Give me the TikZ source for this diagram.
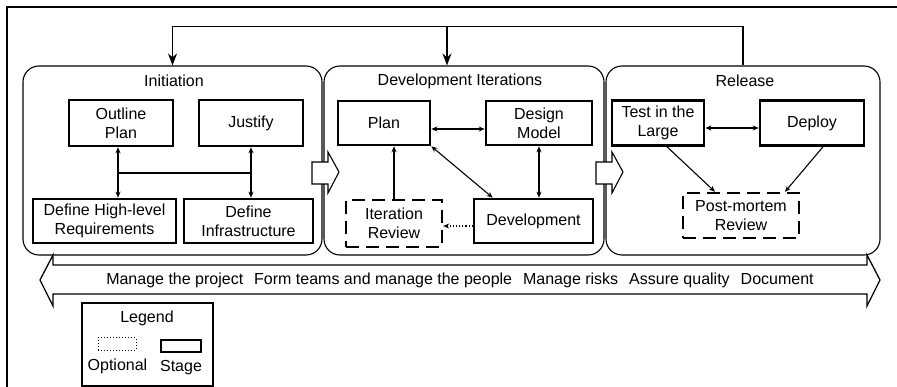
\documentclass[tikz,border=0pt]{standalone}
\usepackage{fontspec}
\setmainfont{Liberation Sans}
\usetikzlibrary{arrows.meta}

\begin{document}
\begin{tikzpicture}[x=1pt, y=-1pt, >={Stealth[length=6pt,width=5pt]},
    every node/.style={font=\fontsize{16}{19}\selectfont},
    phase/.style={draw, line width=1.1pt, rounded corners=16pt},
    stagebox/.style={draw, line width=2.6pt, align=center, inner sep=0pt},
    optbox/.style={draw, line width=2.4pt, dash pattern=on 13pt off 7pt, align=center, inner sep=0pt},
    link/.style={line width=1.1pt},
    feedback/.style={line width=1.2pt, -{Stealth[length=12pt,width=9pt]}}]
  \useasboundingbox (0,0) rectangle (897,387);
  \draw[line width=1.8pt] (897,7) -- (7,7) -- (7,387);

  % the three phases
  \node[phase, minimum width=299pt, minimum height=189pt] (init) at (172.5,160.5) {};
  \node[phase, minimum width=280pt, minimum height=189pt] (dev) at (464,160.5) {};
  \node[phase, minimum width=274pt, minimum height=189pt] (rel) at (743,160.5) {};
  \node (inittitle) at (174,81) {Initiation};
  \node (devtitle) at (460,81) {Development Iterations};
  \node (reltitle) at (745,81) {Release};

  % feedback on top
  \coordinate (fbmid) at (447,27);
  \draw[feedback] (rel.north) -- ++(0,-39) -| (init.north);
  \draw[feedback] (fbmid) -- (fbmid |- dev.north);

  % Initiation
  \node[stagebox, minimum width=104pt, minimum height=46pt] (outline) at (121,123) {Outline\\Plan};
  \node[stagebox, minimum width=104pt, minimum height=46pt] (justify) at (251,123) {Justify};
  \node[stagebox, minimum width=143pt, minimum height=44pt] (defreq) at (104.5,221) {Define High-level\\Requirements};
  \node[stagebox, minimum width=129pt, minimum height=44pt] (definf) at (248.5,221) {Define\\Infrastructure};
  \coordinate (reqjoin) at (118,173);
  \coordinate (infjoin) at (251,173);
  \draw[link,<->] (outline.south -| reqjoin) -- (defreq.north -| reqjoin);
  \draw[link,<->] (justify.south -| infjoin) -- (definf.north -| infjoin);
  \draw[link] (reqjoin) -- (infjoin);

  % Development Iterations
  \node[stagebox, minimum width=92pt, minimum height=44pt] (plan) at (384,123) {Plan};
  \node[stagebox, minimum width=106pt, minimum height=44pt] (design) at (539,123) {Design\\Model};
  \node[stagebox, minimum width=119pt, minimum height=44pt] (devel) at (533.5,221) {Development};
  \node[optbox, minimum width=96pt, minimum height=47pt] (iterrev) at (394,223.5) {Iteration\\Review};
  \coordinate (planrow) at (0,129);
  \coordinate (revrow) at (0,226);
  \draw[link,<->] (plan.east |- planrow) -- (design.west |- planrow);
  \draw[link,<->] (plan.south east) -- ([xshift=20pt]devel.north west);
  \draw[link,<->] (design.south) -- (design.south |- devel.north);
  \draw[link,->] (iterrev.north) -- (iterrev.north |- plan.south);
  \draw[link,dotted,->] (devel.west |- revrow) -- (iterrev.east |- revrow);

  % Release
  \node[stagebox, minimum width=92pt, minimum height=45pt] (test) at (658,123) {Test in the\\Large};
  \node[stagebox, minimum width=104pt, minimum height=45pt] (deploy) at (812,123) {Deploy};
  \node[optbox, minimum width=116pt, minimum height=45pt] (postmortem) at (741,215.5) {Post-mortem\\Review};
  \coordinate (testrow) at (0,128);
  \draw[link,<->] (test.east |- testrow) -- (deploy.west |- testrow);
  \draw[link,->] ([xshift=9pt]test.south) -- ([xshift=-26pt]postmortem.north);
  \draw[link,->] ([xshift=11pt]deploy.south) -- ([xshift=44pt]postmortem.north);

  % block arrows between phases
  \foreach \dx in {0,284}
    \draw[line width=1.1pt, fill=white, shift={(\dx,0)}]
      (312,162) -- (328,162) -- (328,152) -- (339,172) -- (328,193) -- (328,184) -- (312,184) -- cycle;

  % ongoing activities
  \draw[line width=1.3pt, fill=white] (40,280) -- (53,255) -- (53,265) -- (867,265) -- (867,255)
    -- (880,280) -- (867,306) -- (867,294) -- (53,294) -- (53,306) -- cycle;
  \node (tasks) at (460,280) {Manage the project\hspace{11pt}Form teams and manage the people\hspace{11pt}Manage risks\hspace{11pt}Assure quality\hspace{11pt}Document};

  % legend
  \node[draw, line width=1.1pt, minimum width=131pt, minimum height=83pt] (legend) at (147.5,344.5) {};
  \node (legendtitle) at (147,318) {Legend};
  \node[draw, dotted, line width=1pt, minimum width=38pt, minimum height=12pt, inner sep=0pt] (optkey) at (117,344) {};
  \node[stagebox, minimum width=40pt, minimum height=12pt] (stagekey) at (181,346) {};
  \node (optlabel) at (117.5,366) {Optional};
  \node (stagelabel) at (181,368) {Stage};
\end{tikzpicture}
\end{document}
